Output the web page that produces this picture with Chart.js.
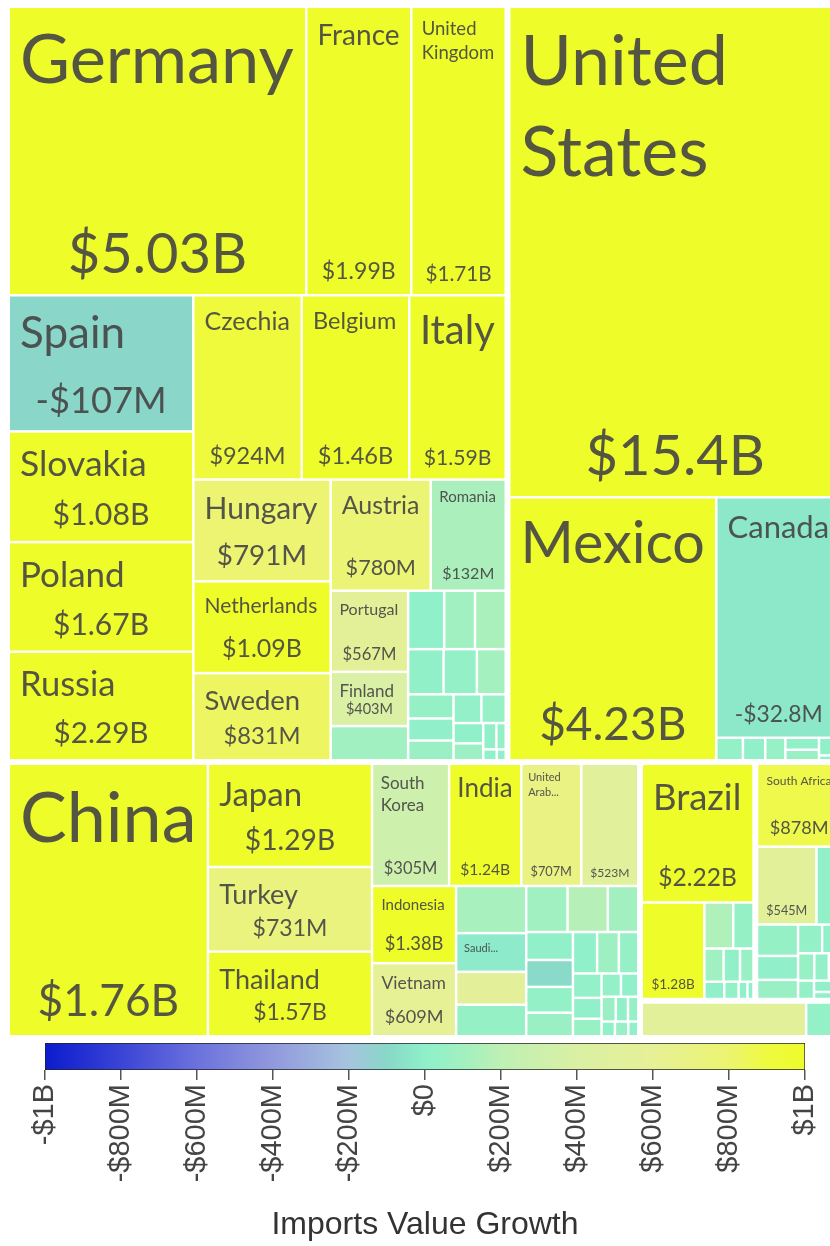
<!DOCTYPE html>
<html>
<head>
<meta charset="utf-8">
<script src="https://cdn.jsdelivr.net/npm/chart.js@4.4.1/dist/chart.umd.min.js"></script>
<style>
html, body { margin: 0; padding: 0; background: #fff; overflow: hidden; }
canvas { display: block; }
</style>
</head>
<body>
<canvas id="treemap" width="850" height="1040"></canvas>
<canvas id="colorbar" width="850" height="206"></canvas>
<script>
// cell size = imports value (USD millions), colour + label = imports value growth (USD)
const regions = ['Europe', 'North America', 'Asia', 'South America', 'Africa', 'Oceania'];

const europeNames = ['Germany', 'France', 'United Kingdom', 'Spain', 'Slovakia', 'Poland', 'Russia', 'Czechia',
  'Belgium', 'Italy', 'Hungary', 'Netherlands', 'Sweden', 'Austria', 'Romania', 'Portugal', 'Finland'];
const europeImports = [8684, 3065, 2759, 2543, 2067, 2047, 2027, 2022, 2005, 1800, 1415, 1275, 1212, 1125, 844, 636, 425];
const europeGrowth = [5.03e9, 1.99e9, 1.71e9, -107e6, 1.08e9, 1.67e9, 2.29e9, 924e6, 1.46e9, 1.59e9, 791e6, 1.09e9,
  831e6, 780e6, 132e6, 567e6, 403e6];
// partners too small to carry a label
const europeOtherImports = [268, 213, 182, 182, 162, 152, 132, 111, 101, 91, 81, 71, 61, 51, 35, 25, 15, 10];
const europeOtherGrowth = [95e6, 10e6, 90e6, 130e6, 20e6, 30e6, 110e6, 40e6, 15e6, 60e6, 25e6, 45e6, 10e6, 70e6,
  20e6, 35e6, 5e6, 15e6];

const northAmericaNames = ['United States', 'Mexico', 'Canada'];
const northAmericaImports = [16533, 5529, 3052];
const northAmericaGrowth = [15.4e9, 4.23e9, -32.8e6];
const northAmericaOtherImports = [61, 51, 46, 41, 36, 25, 15, 11];
const northAmericaOtherGrowth = [30e6, 15e6, 45e6, 20e6, 60e6, 10e6, 25e6, 5e6];

const asiaNames = ['China', 'Japan', 'Turkey', 'Thailand', 'South Korea', 'India', 'United Arab Emirates', '',
  'Indonesia', 'Vietnam', 'Saudi Arabia'];
const asiaImports = [5527, 1725, 1415, 1414, 959, 897, 747, 710, 661, 626, 276];
const asiaGrowth = [1.76e9, 1.29e9, 731e6, 1.57e9, 305e6, 1.24e9, 707e6, 523e6, 1.38e9, 609e6, -25e6];
const asiaOtherImports = [337, 235, 225, 194, 189, 143, 133, 128, 123, 112, 102, 92, 82, 71, 61, 51, 46, 41, 36, 31,
  26, 20, 20, 15];
const asiaOtherGrowth = [120e6, 560e6, 40e6, 90e6, 170e6, 100e6, 20e6, -90e6, 30e6, 60e6, 10e6, 80e6, 40e6, 25e6,
  15e6, 50e6, 30e6, 10e6, 60e6, 20e6, 35e6, 5e6, 45e6, 15e6];

const southAmericaNames = ['Brazil', ''];
const southAmericaImports = [1622, 632];
const southAmericaGrowth = [2.22e9, 1.28e9];
const southAmericaOtherImports = [139, 98, 67, 57, 47, 36, 26, 16, 11];
const southAmericaOtherGrowth = [150e6, 40e6, 90e6, 20e6, 60e6, 10e6, 30e6, 5e6, 15e6];

const africaNames = ['South Africa', ''];
const africaImports = [738, 489];
const africaGrowth = [878e6, 545e6];
const africaOtherImports = [204, 136, 104, 83, 73, 58, 47, 42, 36, 31, 26, 16, 11];
const africaOtherGrowth = [20e6, 40e6, 15e6, 60e6, 30e6, 10e6, 50e6, 25e6, 5e6, 35e6, 20e6, 10e6, 5e6];

const oceaniaNames = [];
const oceaniaImports = [];
const oceaniaGrowth = [];
const oceaniaOtherImports = [623, 133];
const oceaniaOtherGrowth = [550e6, 30e6];

// colour scale
const scaleMin = -1e9, scaleMax = 1e9, scaleStep = 2e8;
const stopValues = [-1e9, -8e8, -6e8, -4e8, -2e8, -1e8, 0, 1e8, 2e8, 4e8, 6e8, 8e8, 9e8, 1e9];
const stopColors = ['#0b1ccc', '#3a44d6', '#6b72dd', '#9199dd', '#a6c4de', '#88d8c8', '#8ef0ca', '#a2f0c0',
  '#bef0b4', '#daf0a4', '#e6f096', '#ecf470', '#eefa40', '#eefc2a'];

const LABEL_FONT = 'Lato, "Open Sans", sans-serif';
const TEXT_COLOR = 'rgba(68,68,68,0.9)';
const REGION_GAP = 6, CELL_GAP = 2.5;

function hexRgb(h) {
  return [parseInt(h.slice(1, 3), 16), parseInt(h.slice(3, 5), 16), parseInt(h.slice(5, 7), 16)];
}
function colorFor(v) {
  v = Math.max(scaleMin, Math.min(scaleMax, v));
  let i = 0;
  while (i < stopValues.length - 2 && v > stopValues[i + 1]) i++;
  const t = (v - stopValues[i]) / (stopValues[i + 1] - stopValues[i]);
  const a = hexRgb(stopColors[i]), b = hexRgb(stopColors[i + 1]);
  const c = a.map((x, k) => Math.round(x + (b[k] - x) * t));
  return 'rgb(' + c.join(',') + ')';
}

function fmtMoney(v, short) {
  const a = Math.abs(v), sign = v < 0 ? '-' : '';
  const num = x => short ? String(+x.toPrecision(3)) : x.toPrecision(3);
  if (a >= 1e9) return sign + '$' + num(a / 1e9) + 'B';
  if (a >= 1e6) return sign + '$' + num(a / 1e6) + 'M';
  if (a >= 1e3) return sign + '$' + num(a / 1e3) + 'K';
  return sign + '$' + a;
}

// d3-style squarified tiling
function squarify(nodes, x0, y0, x1, y1) {
  const ratio = (1 + Math.sqrt(5)) / 2;
  let value = nodes.reduce((s, d) => s + d.value, 0);
  let i0 = 0, i1 = 0;
  const n = nodes.length;
  while (i0 < n) {
    const dx = x1 - x0, dy = y1 - y0;
    let sumValue = nodes[i1++].value, minValue = sumValue, maxValue = sumValue;
    const alpha = Math.max(dy / dx, dx / dy) / (value * ratio);
    let beta = sumValue * sumValue * alpha;
    let minRatio = Math.max(maxValue / beta, beta / minValue);
    for (; i1 < n; ++i1) {
      const nv = nodes[i1].value;
      sumValue += nv;
      if (nv < minValue) minValue = nv;
      if (nv > maxValue) maxValue = nv;
      beta = sumValue * sumValue * alpha;
      const newRatio = Math.max(maxValue / beta, beta / minValue);
      if (newRatio > minRatio) { sumValue -= nv; break; }
      minRatio = newRatio;
    }
    const row = nodes.slice(i0, i1);
    if (dx < dy) {
      const yb = y0 + dy * sumValue / value;
      let x = x0;
      row.forEach(d => { const w = dx * d.value / sumValue; Object.assign(d, {x0: x, x1: x + w, y0: y0, y1: yb}); x += w; });
      y0 = yb;
    } else {
      const xb = x0 + dx * sumValue / value;
      let y = y0;
      row.forEach(d => { const h = dy * d.value / sumValue; Object.assign(d, {x0: x0, x1: xb, y0: y, y1: y + h}); y += h; });
      x0 = xb;
    }
    value -= sumValue;
    i0 = i1;
  }
}

const regionData = [
  [europeNames, europeImports, europeGrowth, europeOtherImports, europeOtherGrowth],
  [northAmericaNames, northAmericaImports, northAmericaGrowth, northAmericaOtherImports, northAmericaOtherGrowth],
  [asiaNames, asiaImports, asiaGrowth, asiaOtherImports, asiaOtherGrowth],
  [southAmericaNames, southAmericaImports, southAmericaGrowth, southAmericaOtherImports, southAmericaOtherGrowth],
  [africaNames, africaImports, africaGrowth, africaOtherImports, africaOtherGrowth],
  [oceaniaNames, oceaniaImports, oceaniaGrowth, oceaniaOtherImports, oceaniaOtherGrowth]
];

const ROOT_W = 836, ROOT_H = 1033;
const groups = regions.map((r, gi) => {
  const [names, imports, growth, oImports, oGrowth] = regionData[gi];
  const children = names.map((nm, i) => ({name: nm, value: imports[i], growth: growth[i], labelled: true}));
  oImports.forEach((v, i) => children.push({name: '', value: v, growth: oGrowth[i], labelled: false}));
  children.sort((a, b) => b.value - a.value);
  return {name: r, children, value: children.reduce((s, c) => s + c.value, 0)};
}).sort((a, b) => b.value - a.value);

squarify(groups, 0, 0, ROOT_W, ROOT_H);
const cells = [];
groups.forEach(g => {
  const q = REGION_GAP / 2, p = CELL_GAP / 2;
  squarify(g.children, g.x0 + q - p, g.y0 + q - p, g.x1 - q + p, g.y1 - q + p);
  g.children.forEach(c => cells.push({
    x: c.x0 + p, y: c.y0 + p, w: c.x1 - c.x0 - 2 * p, h: c.y1 - c.y0 - 2 * p,
    name: c.name, growth: c.growth, labelled: c.labelled, region: g.name
  }));
});

function setFont(ctx, s) { ctx.font = s + 'px ' + LABEL_FONT; }
function wrap(ctx, text, maxW) {
  const words = text.split(' ');
  const lines = [];
  let cur = '';
  words.forEach(w => {
    const t = cur ? cur + ' ' + w : w;
    if (!cur || ctx.measureText(t).width <= maxW) cur = t;
    else { lines.push(cur); cur = w; }
  });
  if (cur) lines.push(cur);
  return lines;
}
function truncate(ctx, line, maxW) {
  if (ctx.measureText(line).width <= maxW) return line;
  let s = line.replace(/\.\.\.$/, '');
  while (s.length > 1 && ctx.measureText(s + '...').width > maxW) s = s.slice(0, -1);
  return s + '...';
}

function drawCellLabel(ctx, el) {
  const {x, y, width: w, height: h, name, valueText} = el;
  const pad = Math.min(10, Math.max(4, w * 0.1));
  const availW = w - 2 * pad;
  if (availW < 20 || h < 24) return;
  let nameSize = 0, lines = [];
  if (name) {
    for (let s = 75; s >= 11; s -= 0.5) {
      setFont(ctx, s);
      const ls = wrap(ctx, name, availW);
      if (ls.length > 2 || ls.some(l => ctx.measureText(l).width > availW)) continue;
      if (s + (ls.length - 1) * 1.3 * s <= 0.33 * h) { nameSize = s; lines = ls; break; }
    }
    if (!nameSize) {
      const s = 11;
      setFont(ctx, s);
      const maxLines = Math.min(2, Math.floor((h - 2 * pad - 1.2 * s) / (1.3 * s)) + 1);
      if (maxLines >= 1) {
        lines = wrap(ctx, name, availW);
        if (lines.length > maxLines) { lines = lines.slice(0, maxLines); lines[maxLines - 1] += '...'; }
        lines = lines.map(l => truncate(ctx, l, availW));
        nameSize = s;
      }
    }
  }
  setFont(ctx, 100);
  const em = ctx.measureText(valueText).width / 100;
  let valueSize = Math.min(56, 0.72 * w / em, 0.28 * h);
  const nameH = nameSize ? (1.2 + 1.3 * (lines.length - 1)) * nameSize : 0;
  if (nameH + 0.95 * valueSize + 2 * pad + 2 > h) {
    const k = (h - 2 * pad - 2) / (nameH + 0.95 * valueSize);
    if (nameSize && nameSize * k < 11) valueSize = 0;
    else { nameSize *= k; valueSize *= k; }
  }
  if (valueSize < 9) valueSize = 0;

  ctx.save();
  ctx.beginPath();
  ctx.rect(x, y, w, h);
  ctx.clip();
  ctx.fillStyle = TEXT_COLOR;
  ctx.textBaseline = 'alphabetic';
  if (nameSize) {
    setFont(ctx, nameSize);
    ctx.textAlign = 'left';
    lines.forEach((l, i) => ctx.fillText(l, x + pad, y + pad + 0.95 * nameSize + i * 1.3 * nameSize));
  }
  if (valueSize) {
    setFont(ctx, valueSize);
    ctx.textAlign = 'center';
    ctx.fillText(valueText, x + w / 2, y + h - pad - 0.2 * valueSize);
  }
  ctx.restore();
}

class CellElement extends Chart.Element {
  draw(ctx) {
    ctx.save();
    ctx.fillStyle = this.options.backgroundColor;
    ctx.fillRect(this.x, this.y, this.width, this.height);
    ctx.restore();
    if (this.valueText) drawCellLabel(ctx, this);
  }
}
CellElement.id = 'cell';
CellElement.defaults = { backgroundColor: '#cccccc' };

class TreemapController extends Chart.DatasetController {
  update(mode) {
    const meta = this._cachedMeta;
    this.updateElements(meta.data, 0, meta.data.length, mode);
  }
  updateElements(els, start, count, mode) {
    const {xScale, yScale} = this._cachedMeta;
    const data = this.getDataset().data;
    for (let i = start; i < start + count; i++) {
      const d = data[i];
      const left = xScale.getPixelForValue(d.x);
      const right = xScale.getPixelForValue(d.x + d.w);
      const top = yScale.getPixelForValue(d.y);
      const bottom = yScale.getPixelForValue(d.y + d.h);
      this.updateElement(els[i], i, {
        x: left, y: top, width: right - left, height: bottom - top,
        name: d.name, valueText: d.labelled ? fmtMoney(d.growth, false) : '',
        options: this.resolveDataElementOptions(i, mode)
      }, mode);
    }
  }
}
TreemapController.id = 'treemap';
TreemapController.defaults = { dataElementType: 'cell', datasetElementType: false };

Chart.register(CellElement, TreemapController);

new Chart(document.getElementById('treemap'), {
  type: 'treemap',
  data: {
    datasets: [{
      data: cells,
      backgroundColor: c => colorFor(c.raw.growth)
    }]
  },
  options: {
    responsive: false,
    animation: false,
    events: [],
    devicePixelRatio: 1,
    layout: { padding: { left: 7, right: 7, top: 5, bottom: 2 } },
    scales: {
      x: { type: 'linear', min: 0, max: ROOT_W, display: false },
      y: { type: 'linear', min: 0, max: ROOT_H, display: false, reverse: true }
    },
    plugins: { legend: { display: false }, tooltip: { enabled: false } }
  }
});

// colour bar
new Chart(document.getElementById('colorbar'), {
  type: 'bar',
  data: {
    labels: [''],
    datasets: [{
      data: [[scaleMin, scaleMax]],
      backgroundColor: c => {
        const {ctx, chartArea, scales} = c.chart;
        if (!chartArea) return '#ccc';
        const g = ctx.createLinearGradient(scales.x.getPixelForValue(scaleMin), 0, scales.x.getPixelForValue(scaleMax), 0);
        stopValues.forEach((v, i) => g.addColorStop((v - scaleMin) / (scaleMax - scaleMin), stopColors[i]));
        return g;
      },
      borderColor: '#222',
      borderWidth: 1,
      borderSkipped: false,
      barPercentage: 1,
      categoryPercentage: 1
    }]
  },
  options: {
    indexAxis: 'y',
    responsive: false,
    animation: false,
    events: [],
    devicePixelRatio: 1,
    layout: { padding: { left: 45, right: 45, top: 3, bottom: 0 } },
    scales: {
      x: {
        type: 'linear', min: scaleMin, max: scaleMax, position: 'bottom',
        afterFit: scale => { scale.height = 176; },
        border: { display: false },
        grid: { drawOnChartArea: false, drawTicks: true, tickLength: 10, color: '#555', lineWidth: 1.5 },
        ticks: {
          stepSize: scaleStep, minRotation: 90, maxRotation: 90, autoSkip: false, padding: 4,
          color: '#444', font: { family: '"Liberation Sans", Arial, sans-serif', size: 29 },
          callback: v => fmtMoney(v, true)
        },
        title: {
          display: true, text: 'Imports Value Growth', color: '#333',
          font: { family: '"Liberation Sans", Arial, sans-serif', size: 32 },
          padding: { top: 30, bottom: 2 }
        }
      },
      y: { display: false }
    },
    plugins: { legend: { display: false }, tooltip: { enabled: false } }
  }
});
</script>
</body>
</html>
